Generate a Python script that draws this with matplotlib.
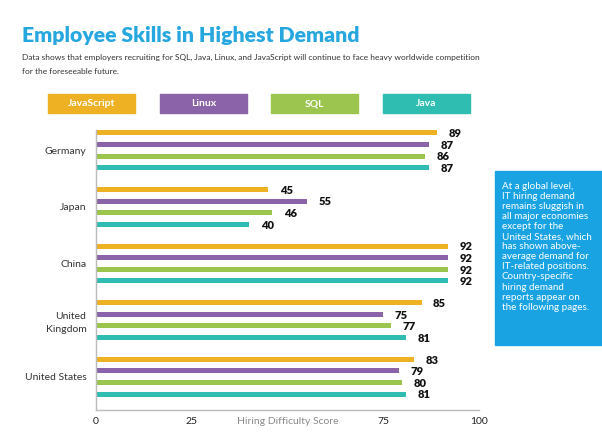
import numpy as np
import matplotlib.pyplot as plt
from matplotlib.patches import Rectangle

plt.rcParams['font.family'] = ['Lato', 'DejaVu Sans']

countries = ["Germany", "Japan", "China", "United\nKingdom", "United States"]
skills = ["JavaScript", "Linux", "SQL", "Java"]
javascript = [89, 45, 92, 85, 83]
linux = [87, 55, 92, 75, 79]
sql = [86, 46, 92, 77, 80]
java = [87, 40, 92, 81, 81]
colors = ["#EFB124", "#8A63A8", "#9CC54F", "#2FBDB1"]

tick_values = [0, 25, 50, 75, 100]
tick_labels = ["0", "25", "Hiring Difficulty Score", "75", "100"]

note_lines = [
    "At a global level,",
    "IT hiring demand",
    "remains sluggish in",
    "all major economies",
    "except for the",
    "United States, which",
    "has shown above-",
    "average demand for",
    "IT-related positions.",
    "Country-specific",
    "hiring demand",
    "reports appear on",
    "the following pages.",
]

fig = plt.figure(figsize=(6.02, 4.32), dpi=100)
ax = fig.add_axes([96 / 602, 22.3 / 432, 383 / 602, 280 / 432])

series = [javascript, linux, sql, java]
y = np.arange(len(countries))
step = 0.205
for i, vals in enumerate(series):
    pos = y + (i - 1.5) * step
    ax.barh(pos, vals, height=0.09, color=colors[i])
    for p, v in zip(pos, vals):
        ax.text(v + 3, p + 0.015, str(v), va='center', ha='left',
                fontsize=8, fontweight='heavy', color='#111111')

ax.set_xlim(0, 100)
ax.set_ylim(4.583, -0.364)
ax.set_yticks(y)
ax.set_yticklabels(countries, fontsize=7.5, color='#333333', linespacing=1.6)
ax.set_xticks(tick_values)
ax.set_xticklabels(tick_labels, fontsize=7.5, color='#222222')
ax.get_xticklabels()[2].set_color('#8a8a8a')
ax.tick_params(length=0, pad=5)
ax.tick_params(axis='y', pad=7)
for s in ['top', 'right']:
    ax.spines[s].set_visible(False)
for s in ['left', 'bottom']:
    ax.spines[s].set_color('#bbbbbb')
    ax.spines[s].set_linewidth(1.0)

# title and subtitle
fig.text(22 / 602, 1 - 42 / 432, "Employee Skills in Highest Demand",
         fontsize=15.3, fontweight='heavy', color='#26A7DF', va='baseline')
fig.text(22 / 602, 1 - 57 / 432,
         "Data shows that employers recruiting for SQL, Java, Linux, and JavaScript "
         "will continue to face heavy worldwide competition",
         fontsize=6.0, color='#333333', va='center')
fig.text(22 / 602, 1 - 71 / 432, "for the foreseeable future.",
         fontsize=6.0, color='#333333', va='center')

# legend boxes
box_x = [48, 160, 271, 383]
for name, c, bx in zip(skills, colors, box_x):
    fig.patches.append(Rectangle((bx / 602, 1 - 113 / 432), 87 / 602, 19 / 432,
                                 transform=fig.transFigure, color=c))
    fig.text((bx + 43.5) / 602, 1 - 103.5 / 432, name, ha='center', va='center',
             fontsize=7.5, fontweight='bold', color='white')

# side note box
fig.patches.append(Rectangle((495 / 602, 1 - 345 / 432), 107 / 602, 174 / 432,
                             transform=fig.transFigure, color='#1AA3E3'))
fig.text(502 / 602, 1 - 182 / 432, "\n".join(note_lines), ha='left', va='top',
         fontsize=7.1, color='white', linespacing=1.15)

fig.savefig("out.png", dpi=100)
